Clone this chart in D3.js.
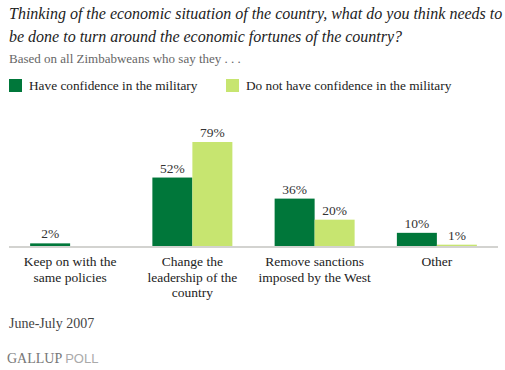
<!DOCTYPE html>
<html>
<head>
<meta charset="utf-8">
<script src="https://cdn.jsdelivr.net/npm/d3@7"></script>
<style>
  body { margin: 0; background: #fff; }
  svg { display: block; }
  text { font-family: "Liberation Serif", "Times New Roman", serif; }
</style>
</head>
<body>
<div id="chart"></div>
<script>
// Data
const categories = [
  ["Keep on with the", "same policies"],
  ["Change the", "leadership of the", "country"],
  ["Remove sanctions", "imposed by the West"],
  ["Other"]
];
const seriesNames = ["Have confidence in the military", "Do not have confidence in the military"];
const confident = [2, 52, 36, 10];
const notConfident = [null, 79, 20, 1];
const colors = ["#00773a", "#c7e570"];

const W = 505, H = 370;
const base = 246;

const svg = d3.select("#chart").append("svg")
  .attr("width", W).attr("height", H);

// Title
const title = svg.append("text")
  .attr("x", 9).attr("y", 19)
  .style("font-style", "italic").style("font-size", "16px").attr("fill", "#222");
title.append("tspan").attr("x", 9).text("Thinking of the economic situation of the country, what do you think needs to");
title.append("tspan").attr("x", 9).attr("dy", 23).text("be done to turn around the economic fortunes of the country?");

svg.append("text").attr("x", 9).attr("y", 63)
  .style("font-size", "13px").attr("fill", "#666")
  .text("Based on all Zimbabweans who say they . . .");

// Legend
const legendX = [9, 226];
const legend = svg.append("g").selectAll("g").data(seriesNames).join("g")
  .attr("transform", (d, i) => "translate(" + legendX[i] + ",79)");
legend.append("rect").attr("width", 13).attr("height", 13).attr("fill", (d, i) => colors[i]);
legend.append("text").attr("x", 20).attr("y", 11)
  .style("font-size", "13.3px").attr("fill", "#222").text(d => d);

// Scales
const x = d3.scaleBand().domain(d3.range(categories.length)).range([9, 498]);
const barW = 40;
const y = d3.scaleLinear().domain([0, 79]).range([base, 142]);

const series = [confident, notConfident];
series.forEach((vals, si) => {
  const data = vals.map((v, i) => ({ v, i })).filter(d => d.v !== null);
  const g = svg.append("g");
  g.selectAll("rect").data(data).join("rect")
    .attr("x", d => x(d.i) + x.bandwidth() / 2 - barW + si * barW)
    .attr("y", d => y(d.v))
    .attr("width", barW)
    .attr("height", d => base - y(d.v))
    .attr("fill", colors[si]);
  g.selectAll("text").data(data).join("text")
    .attr("x", d => x(d.i) + x.bandwidth() / 2 - barW / 2 + si * barW)
    .attr("y", d => y(d.v) - 5)
    .attr("text-anchor", "middle")
    .style("font-size", "13.5px").attr("fill", "#333")
    .text(d => d.v + "%");
});

// Baseline
svg.append("line").attr("x1", 9).attr("x2", 498)
  .attr("y1", base + 1).attr("y2", base + 1)
  .attr("stroke", "#d3d3d0").attr("stroke-width", 2);

// Category labels
const cat = svg.append("g").selectAll("text").data(categories).join("text")
  .attr("text-anchor", "middle")
  .style("font-size", "13.5px").attr("fill", "#222")
  .attr("transform", (d, i) => "translate(" + (x(i) + x.bandwidth() / 2) + ",266)");
cat.selectAll("tspan").data(d => d).join("tspan")
  .attr("x", 0).attr("dy", (d, j) => j ? 15.5 : 0).text(d => d);

// Footer
svg.append("text").attr("x", 9).attr("y", 328)
  .style("font-size", "14px").attr("fill", "#444").text("June-July 2007");

const brand = svg.append("text").attr("x", 7).attr("y", 363)
  .style("font-size", "14px");
brand.append("tspan").attr("fill", "#777").text("GALLUP ");
brand.append("tspan").attr("fill", "#aaa").style("font-family", "'Liberation Sans', sans-serif").style("font-size", "13px").text("POLL");
</script>
</body>
</html>
